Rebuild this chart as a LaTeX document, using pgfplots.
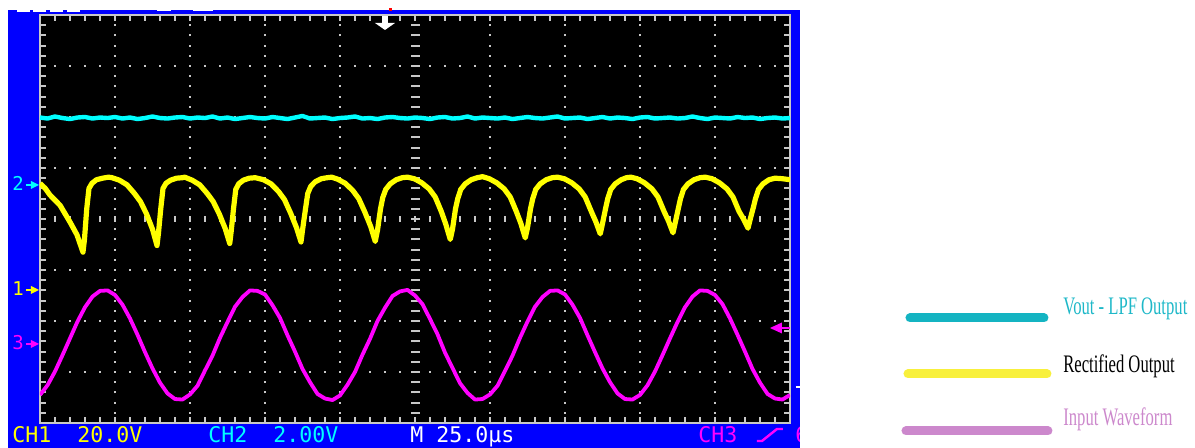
\documentclass[border=0pt]{standalone}
\usepackage{fontspec}
\setmainfont{Liberation Serif}
\newfontfamily\scopefont{DejaVu Sans Mono}
\newfontfamily\legfont[FakeStretch=0.66]{Liberation Serif}
\usepackage{pgfplots}
\pgfplotsset{compat=1.18}
\definecolor{scBlue}{HTML}{0000FF}
\definecolor{scGrid}{HTML}{C8C8C8}
\definecolor{trCyan}{HTML}{00FFFF}
\definecolor{trYellow}{HTML}{FFFF00}
\definecolor{trMagenta}{HTML}{FF00FF}
\definecolor{lgCyan}{HTML}{14B4C2}
\definecolor{lgCyanText}{HTML}{1EB8C8}
\definecolor{lgYellow}{HTML}{F8F03C}
\definecolor{lgOrchid}{HTML}{CC88CC}

\begin{document}
\begin{tikzpicture}
% pixel units of the reference: (40,423) is the lower left corner of the screen
\tikzset{px/.style={x=0.5bp,y=-0.5bp,shift={(-20bp,211.5bp)}}}

\begin{scope}[px]
  \fill[scBlue] (8,10) rectangle (800,448);
  % cut-off readout on the top edge
  \foreach \a in {17,33,50,67} \fill[white] (\a,9) rectangle (\a+13,12);
  \fill[white] (157,9) rectangle (171,11.5);
  \fill[white] (193,9) rectangle (213,11.5);
\end{scope}

\begin{axis}[
  at={(0,0)}, anchor=south west,
  x=37.5bp, y=25.5bp,
  xmin=0, xmax=10, ymin=-4, ymax=4,
  axis background/.style={fill=black},
  axis line style={draw=scGrid, line width=1bp},
  xtick={0,1,...,10}, ytick={-4,-3,...,4},
  minor x tick num=4, minor y tick num=4,
  xticklabels={}, yticklabels={},
  tick align=inside, tick pos=both,
  major tick length=3bp, minor tick length=3bp,
  tick style={draw=scGrid, line width=1bp},
  xmajorgrids, ymajorgrids,
  x grid style={draw=scGrid, line width=1bp, dash pattern=on 1bp off 4.1bp, dash phase=0.5bp},
  y grid style={draw=scGrid, line width=1bp, dash pattern=on 1bp off 6.5bp, dash phase=0.5bp},
]
  % centre graticule with its small marks
  \draw[scGrid, line width=3bp, dash pattern=on 1bp off 6.5bp, dash phase=0.5bp] (axis cs:0,0) -- (axis cs:10,0);
  \draw[scGrid, line width=4.5bp, dash pattern=on 1bp off 4.1bp, dash phase=0.5bp] (axis cs:5,-4) -- (axis cs:5,4);

  % CH2: low pass output
  \addplot[trCyan, line width=2.2bp, line join=round] coordinates {
    (0.0,1.99) (0.1,1.97) (0.2,2.01) (0.3,1.98) (0.4,1.96) (0.5,1.99) (0.6,2.00) (0.7,1.97) (0.8,1.99) (0.9,1.98)
    (1.0,2.00) (1.1,1.97) (1.2,1.99) (1.3,1.96) (1.4,1.98) (1.5,2.01) (1.6,1.98) (1.7,1.97) (1.8,1.99) (1.9,2.00)
    (2.0,1.97) (2.1,1.99) (2.2,1.98) (2.3,2.01) (2.4,1.97) (2.5,1.99) (2.6,1.96) (2.7,1.98) (2.8,2.00) (2.9,1.98)
    (3.0,1.97) (3.1,2.00) (3.2,1.98) (3.3,1.96) (3.4,1.99) (3.5,2.02) (3.6,1.97) (3.7,1.98) (3.8,1.99) (3.9,1.96)
    (4.0,1.98) (4.1,1.99) (4.2,2.01) (4.3,1.97) (4.4,1.98) (4.5,1.96) (4.6,1.99) (4.7,2.00) (4.8,1.98) (4.9,1.97)
    (5.0,1.99) (5.1,1.98) (5.2,1.96) (5.3,1.99) (5.4,2.00) (5.5,1.97) (5.6,1.98) (5.7,2.01) (5.8,1.97) (5.9,1.99)
    (6.0,1.98) (6.1,1.97) (6.2,1.99) (6.3,1.96) (6.4,1.98) (6.5,2.00) (6.6,1.98) (6.7,1.97) (6.8,1.99) (6.9,2.01)
    (7.0,1.97) (7.1,1.98) (7.2,1.99) (7.3,1.96) (7.4,1.98) (7.5,2.00) (7.6,1.97) (7.7,1.99) (7.8,1.98) (7.9,1.96)
    (8.0,1.99) (8.1,2.00) (8.2,1.97) (8.3,1.98) (8.4,1.99) (8.5,1.97) (8.6,1.98) (8.7,2.01) (8.8,1.98) (8.9,1.96)
    (9.0,1.99) (9.1,1.98) (9.2,1.97) (9.3,2.00) (9.4,1.98) (9.5,1.99) (9.6,1.96) (9.7,1.98) (9.8,1.99) (9.9,1.97)
    (10.0,1.98)
  };

  % CH1: rectified output
  \addplot[trYellow, line width=2.6bp, line join=round] coordinates {
    (0,0.70) (0.07,0.60) (0.133,0.47) (0.267,0.27) (0.40,-0.06) (0.493,-0.31) (0.573,-0.65)
    (0.593,-0.40) (0.623,0.20) (0.653,0.60) (0.693,0.70) (0.753,0.77) (0.833,0.80) (0.913,0.82)
    (0.96,0.81) (1.06,0.76) (1.16,0.67) (1.26,0.50) (1.34,0.34) (1.42,0.10) (1.50,-0.20) (1.56,-0.52)
    (1.58,-0.27) (1.61,0.20) (1.64,0.60) (1.68,0.70) (1.74,0.76) (1.82,0.80) (1.90,0.81)
    (1.93,0.82) (2.03,0.76) (2.13,0.67) (2.23,0.50) (2.31,0.34) (2.39,0.10) (2.47,-0.19) (2.53,-0.48)
    (2.55,-0.23) (2.58,0.20) (2.61,0.58) (2.65,0.69) (2.71,0.76) (2.79,0.80) (2.87,0.81)
    (2.98,0.77) (3.08,0.69) (3.18,0.54) (3.26,0.38) (3.34,0.12) (3.42,-0.17) (3.48,-0.45)
    (3.50,-0.22) (3.54,0.20) (3.57,0.50) (3.61,0.64) (3.67,0.73) (3.75,0.79) (3.83,0.81)
    (3.89,0.82) (3.97,0.78) (4.07,0.70) (4.17,0.56) (4.25,0.40) (4.33,0.14) (4.41,-0.15) (4.47,-0.44)
    (4.50,-0.22) (4.54,0.20) (4.57,0.42) (4.61,0.58) (4.67,0.69) (4.75,0.77) (4.83,0.81)
    (4.90,0.82) (4.99,0.79) (5.09,0.71) (5.19,0.59) (5.27,0.43) (5.35,0.15) (5.41,-0.10) (5.47,-0.40)
    (5.50,-0.20) (5.54,0.20) (5.57,0.40) (5.61,0.58) (5.67,0.69) (5.75,0.77) (5.83,0.81)
    (5.90,0.83) (5.99,0.79) (6.09,0.71) (6.19,0.59) (6.27,0.43) (6.35,0.15) (6.41,-0.08) (6.47,-0.37)
    (6.50,-0.17) (6.54,0.20) (6.57,0.40) (6.61,0.58) (6.67,0.69) (6.75,0.77) (6.83,0.81)
    (6.90,0.82) (6.99,0.79) (7.09,0.71) (7.19,0.59) (7.27,0.43) (7.35,0.15) (7.41,-0.05) (7.47,-0.29)
    (7.50,-0.09) (7.54,0.20) (7.57,0.40) (7.61,0.58) (7.67,0.69) (7.75,0.77) (7.82,0.81)
    (7.88,0.82) (7.96,0.79) (8.06,0.71) (8.16,0.59) (8.24,0.43) (8.32,0.15) (8.38,-0.04) (8.44,-0.27)
    (8.47,-0.07) (8.51,0.20) (8.54,0.40) (8.58,0.58) (8.64,0.69) (8.72,0.77) (8.80,0.81)
    (8.87,0.82) (8.96,0.79) (9.06,0.71) (9.16,0.59) (9.24,0.43) (9.32,0.15) (9.38,0.00) (9.44,-0.18)
    (9.47,0.00) (9.51,0.22) (9.54,0.40) (9.58,0.58) (9.64,0.69) (9.72,0.77) (9.80,0.80) (9.90,0.79) (10.0,0.77)
  };

  % CH3: input waveform
  \addplot[trMagenta, line width=1.9bp, line join=round] coordinates {
    (0.0,-3.45) (0.1,-3.26) (0.2,-2.99) (0.3,-2.67) (0.4,-2.34) (0.5,-2.01) (0.6,-1.73) (0.7,-1.52) (0.8,-1.41) (0.9,-1.40)
    (1.0,-1.49) (1.1,-1.68) (1.2,-1.95) (1.3,-2.27) (1.4,-2.61) (1.5,-2.93) (1.6,-3.21) (1.7,-3.42) (1.8,-3.53) (1.9,-3.54)
    (2.0,-3.44) (2.1,-3.27) (2.2,-2.97) (2.3,-2.68) (2.4,-2.33) (2.5,-2.02) (2.6,-1.72) (2.7,-1.53) (2.8,-1.40) (2.9,-1.41)
    (3.0,-1.48) (3.1,-1.69) (3.2,-1.94) (3.3,-2.28) (3.4,-2.60) (3.5,-2.94) (3.6,-3.20) (3.7,-3.43) (3.8,-3.52) (3.9,-3.55)
    (4.0,-3.46) (4.1,-3.25) (4.2,-3.00) (4.3,-2.66) (4.4,-2.35) (4.5,-2.00) (4.6,-1.74) (4.7,-1.51) (4.8,-1.42) (4.9,-1.39)
    (5.0,-1.50) (5.1,-1.67) (5.2,-1.96) (5.3,-2.26) (5.4,-2.62) (5.5,-2.92) (5.6,-3.22) (5.7,-3.41) (5.8,-3.54) (5.9,-3.53)
    (6.0,-3.44) (6.1,-3.27) (6.2,-2.98) (6.3,-2.68) (6.4,-2.33) (6.5,-2.01) (6.6,-1.72) (6.7,-1.53) (6.8,-1.41) (6.9,-1.40)
    (7.0,-1.48) (7.1,-1.68) (7.2,-1.94) (7.3,-2.28) (7.4,-2.61) (7.5,-2.93) (7.6,-3.20) (7.7,-3.42) (7.8,-3.53) (7.9,-3.54)
    (8.0,-3.45) (8.1,-3.26) (8.2,-2.99) (8.3,-2.67) (8.4,-2.34) (8.5,-2.02) (8.6,-1.73) (8.7,-1.52) (8.8,-1.40) (8.9,-1.41)
    (9.0,-1.49) (9.1,-1.67) (9.2,-1.95) (9.3,-2.27) (9.4,-2.60) (9.5,-2.94) (9.6,-3.21) (9.7,-3.43) (9.8,-3.52) (9.9,-3.54)
    (10.0,-3.45)
  };
\end{axis}

\begin{scope}[px]
  % channel ground markers on the left
  \node[anchor=base west, inner sep=0, text=trCyan, font=\scopefont\fontsize{9.5bp}{10bp}\selectfont] at (12,191) {2};
  \draw[trCyan, line width=1bp] (26,185) -- (32,185);
  \fill[trCyan] (31,181) -- (39,185) -- (31,189) -- cycle;
  \node[anchor=base west, inner sep=0, text=trYellow, font=\scopefont\fontsize{9.5bp}{10bp}\selectfont] at (12,296) {1};
  \draw[trYellow, line width=1bp] (26,290) -- (32,290);
  \fill[trYellow] (31,286) -- (39,290) -- (31,294) -- cycle;
  \node[anchor=base west, inner sep=0, text=trMagenta, font=\scopefont\fontsize{9.5bp}{10bp}\selectfont] at (12,350) {3};
  \draw[trMagenta, line width=1bp] (26,344) -- (32,344);
  \fill[trMagenta] (31,340) -- (39,344) -- (31,348) -- cycle;

  % trigger position and level
  \fill[red] (389,8.5) rectangle (392,11);
  \fill[white] (382,16) rectangle (388,23);
  \fill[white] (375,23) -- (395,23) -- (385,30) -- cycle;
  \fill[trMagenta] (770,328) -- (782,322.5) -- (782,333.5) -- cycle;
  \draw[trMagenta, line width=1bp] (781,328) -- (790,328);
  \draw[white, line width=1bp] (796,387) -- (800,387);

  % readout line
  \begin{scope}
    \clip (8,10) rectangle (800,448);
    \tikzset{ro/.style={anchor=base west, inner sep=0, font=\scopefont\fontsize{10.8bp}{12bp}\selectfont}}
    \node[ro, text=trYellow] at (12,443) {CH1\hphantom{00}20.0V};
    \node[ro, text=trCyan] at (208,443) {CH2\hphantom{00}2.00V};
    \node[ro, text=white] at (410,443) {M\hphantom{0}25.0µs};
    \node[ro, text=trMagenta] at (698,443) {CH3};
    \draw[trMagenta, line width=1.2bp] (757,441) -- (762,441) -- (777,429) -- (783,429);
    \node[ro, text=trMagenta] at (795,443) {6};
  \end{scope}

  % legend
  \draw[lgCyan, line width=4.5bp, line cap=round] (910,318) -- (1044,318);
  \draw[lgYellow, line width=4.5bp, line cap=round] (908,374) -- (1047,374);
  \draw[lgOrchid, line width=4.5bp, line cap=round] (906,431) -- (1048,431);
  \tikzset{lg/.style={anchor=base west, inner sep=0, font=\legfont\fontsize{12.6bp}{14bp}\selectfont}}
  \node[lg, text=lgCyanText] at (1063,315) {Vout - LPF Output};
  \node[lg, text=black] at (1063,373) {Rectified Output};
  \node[lg, text=lgOrchid] at (1063,426) {Input Waveform};
\end{scope}

\pgfresetboundingbox
\path (-20bp,-12.5bp) rectangle (577.5bp,211.5bp);
\end{tikzpicture}
\end{document}
